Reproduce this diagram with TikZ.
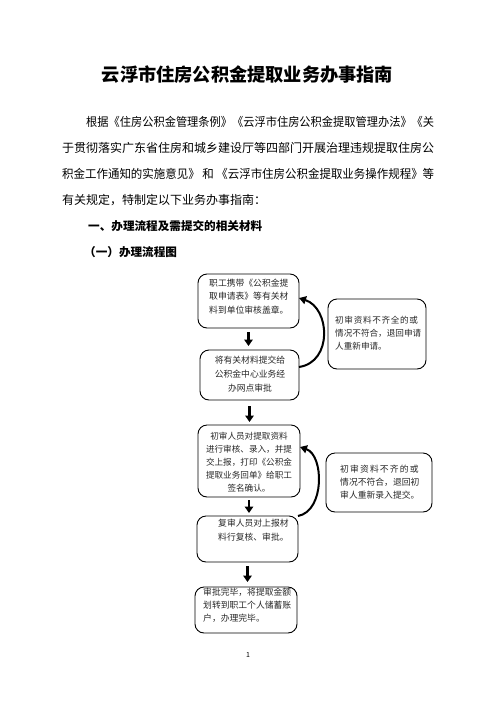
\documentclass[tikz,border=0pt]{standalone}
\usepackage{graphicx}
\usepackage{fontspec}
\setmainfont{Noto Sans CJK SC}
\usetikzlibrary{arrows.meta}
\begin{document}
\begin{tikzpicture}[x=1pt,y=-1pt,
  flowbox/.style={draw, line width=0.9pt, rounded corners=9pt, inner sep=0pt, outer sep=0pt},
  boxtext/.style={inner sep=0pt, anchor=north west, align=left, font=\fontsize{8.8}{13.5}\selectfont, text=black!85},
  para/.style={inner sep=0pt, anchor=west, font=\fontsize{12}{12}\selectfont},
  flowarrow/.style={line width=2.4pt, -{Triangle[width=8.5pt,length=6.5pt]}},
  backarrow/.style={line width=2pt, -{Triangle[width=8pt,length=7pt]}}]
\useasboundingbox (0,0) rectangle (496,702);

% title and text
\node[font=\fontsize{18.2}{18}\selectfont\bfseries] (title) at (247.5,75) {云浮市住房公积金提取业务办事指南};
\node[para] (p1) at (86,122) {\resizebox{348pt}{\height}{根据《住房公积金管理条例》《云浮市住房公积金提取管理办法》《关}};
\node[para] (p2) at (62,148) {\resizebox{372pt}{\height}{于贯彻落实广东省住房和城乡建设厅等四部门开展治理违规提取住房公}};
\node[para] (p3) at (62,174) {\resizebox{372pt}{\height}{积金工作通知的实施意见》\ 和\ 《云浮市住房公积金提取业务操作规程》等}};
\node[para] (p4) at (62,200) {有关规定，特制定以下业务办事指南：};
\node[para, font=\fontsize{11.6}{12}\selectfont\bfseries] (h1) at (88,226) {一、办理流程及需提交的相关材料};
\node[para, font=\fontsize{11.6}{12}\selectfont\bfseries] (h2) at (84,252) {（一）办理流程图};

% boxes
\node[flowbox, minimum width=101, minimum height=54] (b1) at (248.5,301) {};
\node[flowbox, minimum width=99, minimum height=50] (b2) at (249.5,375) {};
\node[flowbox, minimum width=102, minimum height=72] (b3) at (249,461) {};
\node[flowbox, minimum width=101, minimum height=46] (b4) at (247.5,539) {};
\node[flowbox, minimum width=102, minimum height=46] (b5) at (246,610) {};
\node[flowbox, minimum width=98, minimum height=70] (ba) at (377,334) {};
\node[flowbox, minimum width=106, minimum height=59] (bb) at (379,482.5) {};

% box texts
\node[boxtext] (t1) at (209,278.5) {职工携带《公积金提\\取申请表》等有关材\\料到单位审核盖章。};
\node[boxtext, anchor=north, align=center, font=\fontsize{8.8}{14}\selectfont] (t2) at (250,355.5) {将有关材料提交给\\公积金中心业务经\\办网点审批};
\node[boxtext, anchor=north, align=center, font=\fontsize{8.6}{13}\selectfont] (t3) at (249,432.5) {初审人员对提取资料\\进行审核、录入，并提\\交上报，打印《公积金\\提取业务回单》给职工\\签名确认。};
\node[boxtext, font=\fontsize{8.8}{14}\selectfont] (t4) at (218,518.5) {复审人员对上报材\\料行复核、审批。};
\node[boxtext, font=\fontsize{8.8}{13}\selectfont] (t5) at (203,587.5) {审批完毕，将提取金额\\划转到职工个人储蓄账\\户，办理完毕。};
\node[boxtext, font=\fontsize{8.6}{13}\selectfont] (ta) at (335,315.5) {{\addfontfeature{LetterSpace=8}初审资料不齐全的或}\\情况不符合，退回申请\\人重新申请。};
\node[boxtext, font=\fontsize{8.8}{13}\selectfont] (tb) at (340,464.5) {{\addfontfeature{LetterSpace=13}初审资料不齐的或}\\情况不符合，退回初\\审人重新录入提交。};

% vertical arrows
\draw[flowarrow, shorten <=4pt, shorten >=4pt] (b1.south) -- (b1.south |- b2.north);
\draw[flowarrow, shorten <=6pt, shorten >=3pt] (b2.south) -- (b2.south |- b3.north);
\draw[flowarrow, shorten <=3pt, shorten >=3pt] (b3.south) -- (b3.south |- b4.north);
\draw[flowarrow, shorten <=4pt, shorten >=5pt] (b4.south) -- (b4.south |- b5.north);

% return arrows
\draw[backarrow] ([yshift=8pt]b2.east) .. controls +(34,-5) and +(31,10) .. ([yshift=3pt]b1.east);
\draw[backarrow] (b4.north east) .. controls +(27,-5) and +(24,8) .. ([yshift=14pt]b3.east);

% page number
\node[font=\fontsize{7}{7}\selectfont] (pg) at (248,655) {1};
\end{tikzpicture}
\end{document}
